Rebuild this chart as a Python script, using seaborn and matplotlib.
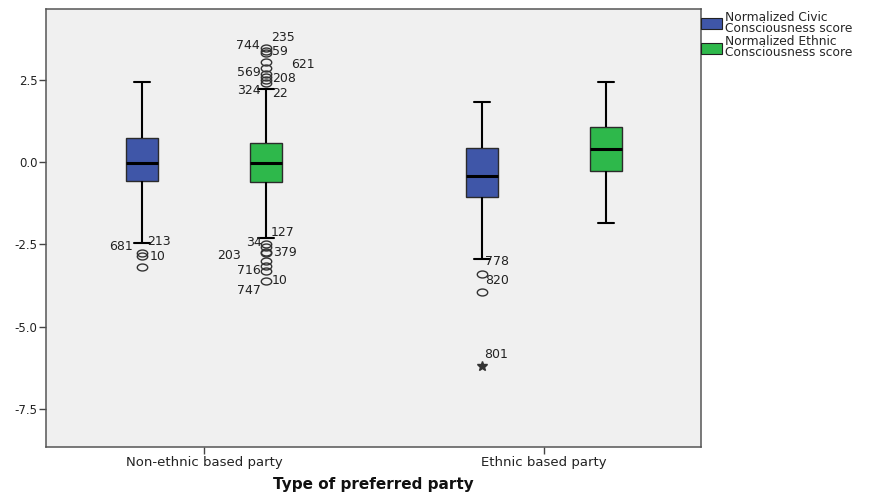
import numpy as np
import pandas as pd
import matplotlib
matplotlib.use("Agg")
import matplotlib.pyplot as plt
import seaborn as sns
from matplotlib.patches import Patch
from matplotlib.path import Path
from matplotlib.transforms import Affine2D
from matplotlib.ticker import FormatStrFormatter

# ---------------- data ----------------
categories = ["Non-ethnic based party", "Ethnic based party"]
measures = ["Normalized Civic\nConsciousness score", "Normalized Ethnic\nConsciousness score"]
colors = ["#3f56a8", "#2eb84b"]

# five-number summaries: lower whisker, Q1, median, Q3, upper whisker
civic_nonethnic = [-2.45, -0.57, -0.03, 0.73, 2.43]
ethnic_nonethnic = [-2.31, -0.61, -0.03, 0.58, 2.23]
civic_ethnic = [-2.93, -1.05, -0.41, 0.44, 1.82]
ethnic_ethnic = [-1.86, -0.26, 0.40, 1.08, 2.43]

# outliers (circles) and extremes (stars)
civic_nonethnic_out = [-2.75, -2.85, -3.20]
ethnic_nonethnic_out = [3.48, 3.38, 3.31, 3.04, 2.86, 2.68, 2.58, 2.50, 2.42,
                        -2.48, -2.57, -2.72, -2.77, -2.99, -3.17, -3.30, -3.60]
civic_ethnic_out = [-3.39, -3.96]
civic_ethnic_extreme = [-6.19]

# case labels
civic_nonethnic_labels = ["681", "213", "10"]
civic_nonethnic_label_y = [-2.57, -2.42, -2.87]
ethnic_nonethnic_labels = ["235", "744", "59", "621", "569", "208", "324", "22",
                           "127", "34", "379", "203", "716", "10", "747"]
ethnic_nonethnic_label_y = [3.80, 3.56, 3.38, 2.98, 2.73, 2.55, 2.17, 2.10,
                            -2.14, -2.45, -2.75, -2.84, -3.30, -3.60, -3.90]
civic_ethnic_labels = ["778", "820", "801"]
civic_ethnic_label_y = [-3.03, -3.61, -5.84]

# label layout (pixel offsets from box centre, alignment)
civic_nonethnic_dx = [(-9, "right"), (5, "left"), (8, "left")]
ethnic_nonethnic_dx = [(5, "left"), (-6, "right"), (6, "left"), (25, "left"),
                       (-5, "right"), (6, "left"), (-5, "right"), (6, "left"),
                       (5, "left"), (-4, "right"), (7, "left"), (-25, "right"),
                       (-5, "right"), (6, "left"), (-5, "right")]
civic_ethnic_dx = [(3, "left"), (3, "left"), (2, "left")]

# ---------------- build table ----------------
rows = []
for cat, meas, vals in [(categories[0], measures[0], civic_nonethnic),
                        (categories[0], measures[1], ethnic_nonethnic),
                        (categories[1], measures[0], civic_ethnic),
                        (categories[1], measures[1], ethnic_ethnic)]:
    for v in vals:
        rows.append({"party": cat, "measure": meas, "score": v})
df = pd.DataFrame(rows)

# ---------------- plot ----------------
sns.set_style("white")
plt.rcParams["font.family"] = ["DejaVu Sans"]

fig = plt.figure(figsize=(8.81, 4.94), dpi=100)
ax = fig.add_axes([46 / 881, 47 / 494, 655 / 881, 438 / 494])
ax.set_facecolor("#f0f0f0")

BOX_W = 0.73
sns.boxplot(data=df, x="party", y="score", hue="measure", order=categories,
            hue_order=measures, palette=colors, width=BOX_W, gap=0.74,
            whis=(0, 100), showfliers=False, saturation=1,
            linecolor="#2b2b2b", linewidth=1.0,
            medianprops={"color": "black", "linewidth": 2.2},
            whiskerprops={"color": "black", "linewidth": 1.5},
            capprops={"color": "black", "linewidth": 1.5},
            legend=False, ax=ax)

def slot(cat_i, hue_i):
    return cat_i + (hue_i - 0.5) * BOX_W / 2

ell = Affine2D().scale(1.5, 1.0).transform_path(Path.unit_circle())

for (ci, hi), outs in [((0, 0), civic_nonethnic_out),
                       ((0, 1), ethnic_nonethnic_out),
                       ((1, 0), civic_ethnic_out)]:
    ax.plot([slot(ci, hi)] * len(outs), outs, linestyle="none", marker=ell,
            ms=7.5, mfc="none", mec="#333333", mew=1.0, zorder=4)

ax.plot([slot(1, 0)] * len(civic_ethnic_extreme), civic_ethnic_extreme,
        linestyle="none", marker="*", ms=7, color="#333333", zorder=4)

for (ci, hi), labs, ys, lay in [((0, 0), civic_nonethnic_labels, civic_nonethnic_label_y, civic_nonethnic_dx),
                                ((0, 1), ethnic_nonethnic_labels, ethnic_nonethnic_label_y, ethnic_nonethnic_dx),
                                ((1, 0), civic_ethnic_labels, civic_ethnic_label_y, civic_ethnic_dx)]:
    for t, y, (dx, ha) in zip(labs, ys, lay):
        ax.annotate(t, xy=(slot(ci, hi), y), xytext=(dx, 0),
                    textcoords="offset pixels", ha=ha, va="center",
                    fontsize=9, color="#222222", zorder=5)

ax.set_xlim(-0.465, 1.462)
ax.set_ylim(-8.66, 4.66)
ax.set_yticks([2.5, 0.0, -2.5, -5.0, -7.5])
ax.yaxis.set_major_formatter(FormatStrFormatter("%.1f"))
ax.set_xticks([0, 1])
ax.set_xticklabels(categories)
ax.tick_params(axis="both", direction="out", length=5, width=1,
               color="#444444", labelcolor="#222222", labelsize=9.5, left=True, bottom=True)
ax.tick_params(axis="x", pad=1.5)
ax.tick_params(axis="y", labelsize=8.5, pad=1)
ax.set_ylabel("")
ax.set_xlabel("Type of preferred party", fontsize=11, fontweight="bold",
              color="#111111", labelpad=6)
for s in ax.spines.values():
    s.set_color("#555555")
    s.set_linewidth(1.1)

handles = [Patch(facecolor=c, edgecolor="#222222", linewidth=0.8) for c in colors]
leg = fig.legend(handles, measures, loc="upper left", bbox_to_anchor=(701 / 881, 1 - 11 / 494),
                 frameon=False, fontsize=8.8, handlelength=1.7, handleheight=1.0,
                 handletextpad=0.25, labelspacing=0.02, borderaxespad=0, borderpad=0)
for t in leg.get_texts():
    t.set_linespacing(0.8)

fig.savefig("out.png", dpi=100, facecolor="white")
